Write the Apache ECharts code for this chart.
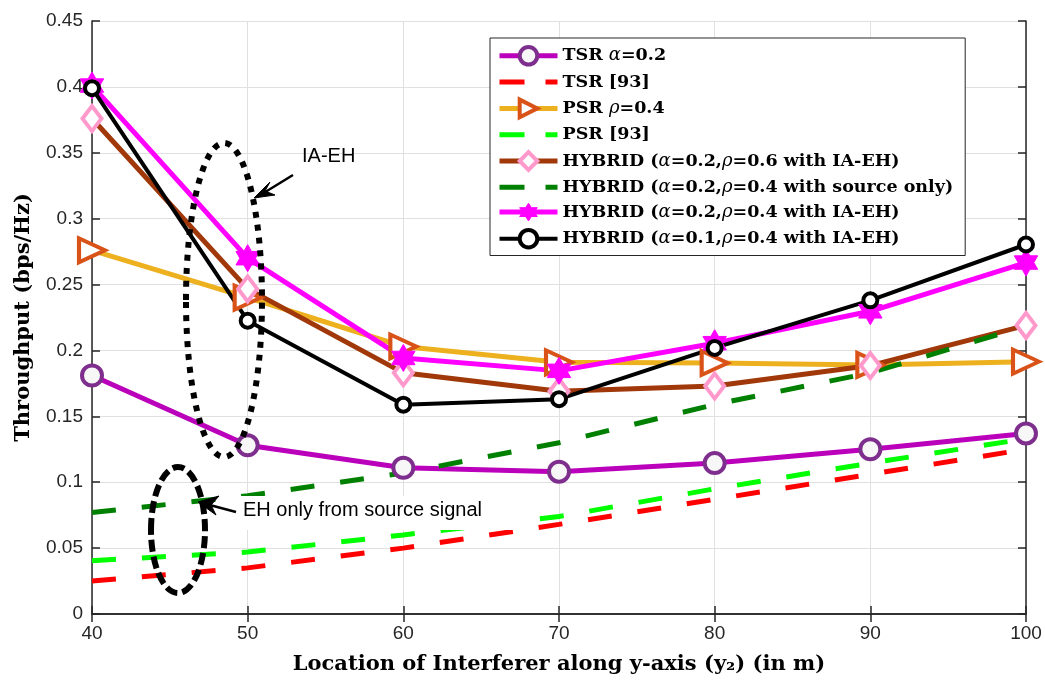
<!DOCTYPE html>
<html>
<head>
<meta charset="utf-8">
<script src="https://cdn.jsdelivr.net/npm/echarts@6/dist/echarts.min.js"></script>
<style>
html,body{margin:0;padding:0;background:#fff;}
#c{width:1045px;height:681px;}
</style>
</head>
<body>
<div id="c"></div>
<script>
// ---- data ----
var xValues = [40, 50, 60, 70, 80, 90, 100];
var yTicks = ['0', '0.05', '0.1', '0.15', '0.2', '0.25', '0.3', '0.35', '0.4', '0.45'];
var seriesNames = [
  'TSR α=0.2',
  'TSR [93]',
  'PSR ρ=0.4',
  'PSR [93]',
  'HYBRID (α=0.2,ρ=0.6 with IA-EH)',
  'HYBRID (α=0.2,ρ=0.4 with source only)',
  'HYBRID (α=0.2,ρ=0.4 with IA-EH)',
  'HYBRID (α=0.1,ρ=0.4 with IA-EH)'
];
var tsrAlpha = [0.181, 0.128, 0.111, 0.108, 0.1145, 0.125, 0.137];
var tsrRef = [0.025, 0.035, 0.050, 0.068, 0.087, 0.106, 0.125];
var psrRho = [0.276, 0.240, 0.203, 0.191, 0.1905, 0.189, 0.1915];
var psrRef = [0.0405, 0.047, 0.060, 0.074, 0.095, 0.1145, 0.133];
var hybA2R6 = [0.376, 0.2467, 0.183, 0.169, 0.173, 0.1885, 0.219];
var hybSource = [0.077, 0.0897, 0.107, 0.130, 0.159, 0.183, 0.2185];
var hybA2R4 = [0.401, 0.270, 0.1943, 0.1845, 0.2055, 0.2297, 0.2667];
var hybA1R4 = [0.399, 0.2226, 0.1588, 0.163, 0.2019, 0.238, 0.2804];

function pairs(arr) { return xValues.map(function (x, i) { return [x, arr[i]]; }); }

// hexagram marker path
function hexagram() {
  var pts = [];
  for (var k = 0; k < 12; k++) {
    var ang = (-90 + k * 30) * Math.PI / 180;
    var r = (k % 2 === 0) ? 100 : 57.7;
    pts.push((r * Math.cos(ang)).toFixed(2) + ' ' + (r * Math.sin(ang)).toFixed(2));
  }
  return 'path://M' + pts.join(' L') + ' Z';
}
var dashIcon = 'path://M0 0 H25 V5 H0 Z M46 0 H58 V5 H46 Z';

var chart = echarts.init(document.getElementById('c'), null, {renderer: 'canvas'});
var tickFont = {fontFamily: 'Liberation Sans, Arial, sans-serif', fontSize: 19, color: '#262626'};
var titleFont = {fontFamily: 'DejaVu Serif, serif', fontWeight: 'bold', fontSize: 21, color: '#000'};
var axisLine = {show: true, lineStyle: {color: '#262626', width: 1.5}};

function lineSeries(name, data, opts) {
  var s = {
    name: name, type: 'line', data: pairs(data),
    symbol: 'none', showSymbol: true, animation: false, z: 2,
    lineStyle: {width: 5, cap: 'butt', join: 'round'}
  };
  for (var k in opts) s[k] = opts[k];
  return s;
}

var legendData = seriesNames.map(function (n, i) {
  if (i === 1 || i === 3 || i === 5) return {name: n, icon: dashIcon};
  return {name: n};
});

var option = {
  animation: false,
  backgroundColor: '#fff',
  grid: {left: 92, right: 19, top: 21, bottom: 67, containLabel: false},
  xAxis: [{
    type: 'value', min: 40, max: 100, interval: 10,
    axisLine: axisLine,
    axisTick: {show: true, inside: true, length: 8, lineStyle: {color: '#262626', width: 1.5}},
    axisLabel: Object.assign({margin: 10}, tickFont),
    splitLine: {show: true, lineStyle: {color: '#e0e0e0', width: 1}},
    name: 'Location of Interferer along y-axis (y₂) (in m)',
    nameLocation: 'middle', nameGap: 40,
    nameTextStyle: titleFont
  }, {
    type: 'value', min: 40, max: 100, interval: 10, position: 'top',
    axisLine: axisLine,
    axisTick: {show: true, inside: true, length: 8, lineStyle: {color: '#262626', width: 1.5}},
    axisLabel: {show: false}, splitLine: {show: false}
  }],
  yAxis: [{
    type: 'value', min: 0, max: 0.45, interval: 0.05,
    axisLine: axisLine,
    axisTick: {show: true, inside: true, length: 8, lineStyle: {color: '#262626', width: 1.5}},
    axisLabel: Object.assign({margin: 9, formatter: function (v) {
      var i = Math.round(v / 0.05); return yTicks[i];
    }}, tickFont),
    splitLine: {show: true, lineStyle: {color: '#e0e0e0', width: 1}},
    name: 'Throughput (bps/Hz)',
    nameLocation: 'middle', nameGap: 58,
    nameTextStyle: titleFont
  }, {
    type: 'value', min: 0, max: 0.45, interval: 0.05, position: 'right',
    axisLine: axisLine,
    axisTick: {show: true, inside: true, length: 8, lineStyle: {color: '#262626', width: 1.5}},
    axisLabel: {show: false}, splitLine: {show: false}
  }],
  legend: {
    orient: 'vertical', left: 490, top: 38,
    backgroundColor: '#fff', borderColor: '#262626', borderWidth: 1,
    padding: [7, 12, 6, 7],
    itemWidth: 58, itemHeight: 22, itemGap: 6.5,
    symbolKeepAspect: true,
    itemStyle: {borderWidth: 'inherit'},
    lineStyle: {width: 'inherit'},
    data: legendData,
    formatter: function (name) {
      return name.replace(/([αρ])/g, '{g|$1}');
    },
    textStyle: {
      fontFamily: 'DejaVu Serif, serif', fontWeight: 'bold', fontSize: 17.5, color: '#000',
      rich: {g: {fontFamily: 'DejaVu Serif, serif', fontStyle: 'italic', fontWeight: 'normal', fontSize: 18, color: '#000'}}
    }
  },
  series: [
    lineSeries(seriesNames[0], tsrAlpha, {
      symbol: 'circle', symbolSize: 20,
      lineStyle: {width: 5, color: '#BB00BB'},
      itemStyle: {color: '#f7f7f7', borderColor: '#7E2F8E', borderWidth: 4}
    }),
    lineSeries(seriesNames[1], tsrRef, {
      lineStyle: {width: 5, color: '#FF0000', type: [24, 26]},
      itemStyle: {color: '#FF0000'}
    }),
    lineSeries(seriesNames[2], psrRho, {
      symbol: 'triangle', symbolSize: [24, 26], symbolRotate: -90,
      lineStyle: {width: 5, color: '#EDB120'},
      itemStyle: {color: '#ffffff', borderColor: '#D95319', borderWidth: 4}
    }),
    lineSeries(seriesNames[3], psrRef, {
      lineStyle: {width: 5, color: '#00FF00', type: [24, 26]},
      itemStyle: {color: '#00FF00'}
    }),
    lineSeries(seriesNames[4], hybA2R6, {
      symbol: 'diamond', symbolSize: [19, 25],
      lineStyle: {width: 5, color: '#A0380A'},
      itemStyle: {color: '#ffffff', borderColor: '#FF99CC', borderWidth: 4}
    }),
    lineSeries(seriesNames[5], hybSource, {
      lineStyle: {width: 5, color: '#008000', type: [24, 26]},
      itemStyle: {color: '#008000'}
    }),
    lineSeries(seriesNames[6], hybA2R4, {
      symbol: hexagram(), symbolSize: 27, symbolKeepAspect: true,
      lineStyle: {width: 5, color: '#FF00FF'},
      itemStyle: {color: '#FF00FF', borderColor: '#FF00FF', borderWidth: 1}
    }),
    lineSeries(seriesNames[7], hybA1R4, {
      symbol: 'circle', symbolSize: 14,
      lineStyle: {width: 4, color: '#000000'},
      itemStyle: {color: '#ffffff', borderColor: '#000000', borderWidth: 4}
    })
  ],
  graphic: [
    {type: 'ellipse', shape: {cx: 224, cy: 300, rx: 38, ry: 157},
     style: {fill: null, stroke: '#000', lineWidth: 6, lineDash: [6, 7]}, z: 50},
    {type: 'ellipse', shape: {cx: 178, cy: 530, rx: 27, ry: 63},
     style: {fill: null, stroke: '#000', lineWidth: 6, lineDash: [12, 5]}, z: 50},
    // IA-EH arrow
    {type: 'line', shape: {x1: 293, y1: 175, x2: 262, y2: 194},
     style: {stroke: '#000', lineWidth: 2.5}, z: 50},
    {type: 'polygon', shape: {points: [[254, 198], [270, 182], [265, 191], [275, 195]]},
     style: {fill: '#000', stroke: '#000', lineWidth: 1}, z: 50},
    {type: 'text', left: 302, top: 146, z: 50,
     style: {text: 'IA-EH', fontFamily: 'Liberation Sans, Arial, sans-serif', fontSize: 20, fill: '#000'}},
    // EH only arrow
    {type: 'rect', shape: {x: 241, y: 496, width: 282, height: 34},
     style: {fill: '#fff'}, z: 49},
    {type: 'line', shape: {x1: 236, y1: 512, x2: 206, y2: 504},
     style: {stroke: '#000', lineWidth: 2.5}, z: 50},
    {type: 'polygon', shape: {points: [[198, 502], [219, 496], [211, 505], [216, 515]]},
     style: {fill: '#000', stroke: '#000', lineWidth: 1}, z: 50},
    {type: 'text', left: 243, top: 500, z: 51,
     style: {text: 'EH only from source signal', fontFamily: 'Liberation Sans, Arial, sans-serif', fontSize: 20, fill: '#000'}}
  ]
};
chart.setOption(option);
</script>
</body>
</html>
